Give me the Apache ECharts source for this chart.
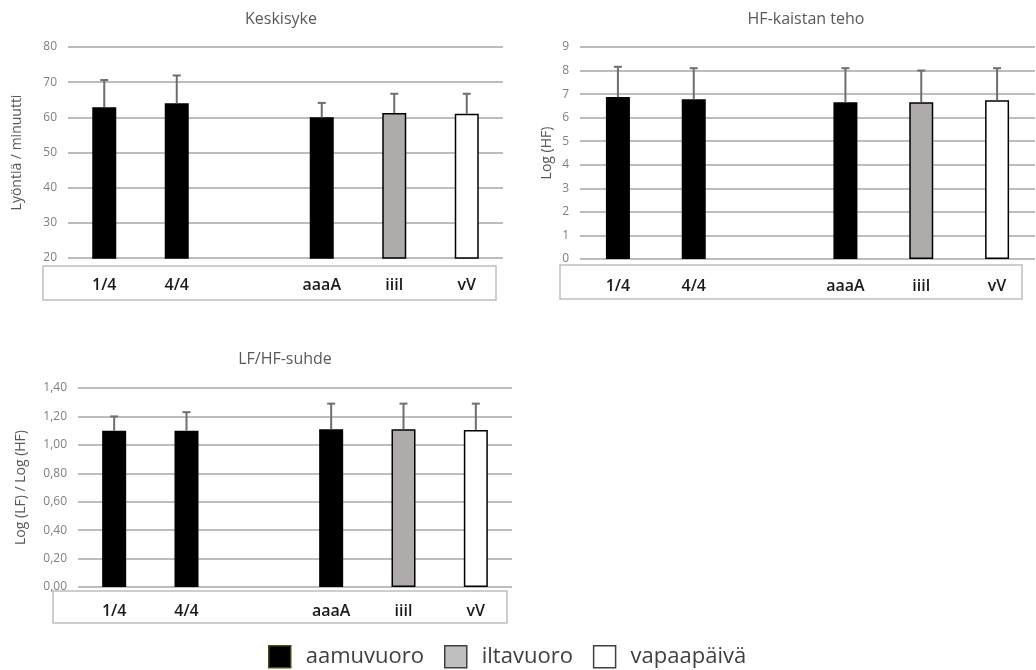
<!DOCTYPE html>
<html>
<head>
<meta charset="utf-8">
<script src="https://cdn.jsdelivr.net/npm/echarts@6/dist/echarts.min.js"></script>
<style>html,body{margin:0;padding:0;background:#fff;}#c{width:1036px;height:670px;}</style>
</head>
<body>
<div id="c"></div>
<script>
const categories = ['1/4', '4/4', '', 'aaaA', 'iiil', 'vV'];
const groupOf = ['aamuvuoro', 'aamuvuoro', null, 'aamuvuoro', 'iltavuoro', 'vapaapäivä'];
const legendNames = ['aamuvuoro', 'iltavuoro', 'vapaapäivä'];

const hrMean = [62.9, 64.0, null, 60.0, 61.2, 61.0];
const hrUpper = [70.6, 71.9, null, 64.1, 66.7, 66.7];
const hfMean = [6.88, 6.78, null, 6.65, 6.65, 6.74];
const hfUpper = [8.16, 8.10, null, 8.10, 8.00, 8.10];
const lfhfMean = [1.10, 1.10, null, 1.11, 1.11, 1.105];
const lfhfUpper = [1.20, 1.23, null, 1.29, 1.29, 1.29];

const titles = ['Keskisyke', 'HF-kaistan teho', 'LF/HF-suhde'];
const yNames = ['Lyöntiä / minuutti', 'Log (HF)', 'Log (LF) / Log (HF)'];
const yMin = [20, 0, 0];
const yMax = [80, 9, 1.4];
const yInterval = [10, 1, 0.2];

const fillColors = { 'aamuvuoro': '#000000', 'iltavuoro': '#afabab', 'vapaapäivä': '#ffffff' };
const FONT = '"Open Sans", "Noto Sans", sans-serif';

const grids = [
  { left: 68, right: 533, top: 47, bottom: 412 },
  { left: 580, right: 1, top: 47, bottom: 411 },
  { left: 78, right: 524, top: 388, bottom: 83 }
];
const nameGaps = [44, 26, 50];
const labelMargins = [19, 19, 16];
const titlePos = [{ left: 276, top: 6 }, { left: 801, top: 6 }, { left: 280, top: 346 }];
const boxes = [
  { x: 43, y: 266, w: 453, h: 34 },
  { x: 560, y: 265, w: 462, h: 34 },
  { x: 53, y: 591, w: 454, h: 32 }
];

const means = [hrMean, hfMean, lfhfMean];
const uppers = [hrUpper, hfUpper, lfhfUpper];

const xAxes = [], yAxes = [], series = [];
for (let g = 0; g < 3; g++) {
  xAxes.push({
    type: 'category', gridIndex: g, data: categories,
    axisLine: { show: false }, axisTick: { show: false },
    axisLabel: { margin: labelMargins[g], fontSize: 16, fontWeight: 600, color: '#1a1a1a', fontFamily: FONT, interval: 0 }
  });
  yAxes.push({
    type: 'value', gridIndex: g, min: yMin[g], max: yMax[g], interval: yInterval[g],
    name: yNames[g], nameLocation: 'middle', nameGap: nameGaps[g],
    nameTextStyle: { fontSize: 14, color: '#595959', fontFamily: FONT },
    axisLine: { show: false }, axisTick: { show: false },
    axisLabel: {
      margin: 11, fontSize: 12, color: '#7f7f7f', fontFamily: FONT,
      formatter: g === 2 ? (v => v.toFixed(2).replace('.', ',')) : (v => String(v))
    },
    splitLine: { lineStyle: { color: '#bdbdbd', width: 2 } }
  });
  legendNames.forEach(name => {
    series.push({
      type: 'bar', name: name, xAxisIndex: g, yAxisIndex: g,
      barWidth: 24, barGap: '-100%',
      data: means[g].map((v, i) => groupOf[i] === name ? v : '-'),
      itemStyle: { color: fillColors[name], borderColor: '#000', borderWidth: 1.5 },
      emphasis: { disabled: true }, animation: false
    });
  });
  series.push({
    type: 'custom', xAxisIndex: g, yAxisIndex: g, z: 5, animation: false,
    data: means[g].map((v, i) => v == null ? null : [i, v, uppers[g][i]]).filter(d => d),
    renderItem: function (params, api) {
      const x = api.value(0);
      const lo = api.coord([x, api.value(1)]);
      const hi = api.coord([x, api.value(2)]);
      const st = { stroke: '#6e6e6e', lineWidth: 2 };
      return {
        type: 'group', children: [
          { type: 'line', shape: { x1: lo[0], y1: lo[1], x2: hi[0], y2: hi[1] }, style: st },
          { type: 'line', shape: { x1: hi[0] - 4, y1: hi[1], x2: hi[0] + 4, y2: hi[1] }, style: st }
        ]
      };
    }
  });
}

const option = {
  backgroundColor: '#ffffff',
  animation: false,
  title: titles.map((t, i) => ({
    text: t, left: titlePos[i].left, top: titlePos[i].top, textAlign: 'center',
    textStyle: { fontSize: 16, fontWeight: 'normal', color: '#595959', fontFamily: FONT }
  })),
  grid: grids,
  xAxis: xAxes,
  yAxis: yAxes,
  legend: {
    left: 268, top: 645, padding: 0, icon: 'rect', itemWidth: 22, itemHeight: 22, itemGap: 20,
    selectedMode: false,
    textStyle: { fontSize: 22, color: '#404040', fontFamily: FONT, padding: [0, 0, 0, 10] },
    data: [
      { name: 'aamuvuoro', itemStyle: { color: '#000', borderColor: '#4a4a10', borderWidth: 1.5 } },
      { name: 'iltavuoro', itemStyle: { color: '#bfbfbf', borderColor: '#404040', borderWidth: 1.5 } },
      { name: 'vapaapäivä', itemStyle: { color: '#fff', borderColor: '#404040', borderWidth: 1.5 } }
    ]
  },
  graphic: boxes.map(b => ({
    type: 'rect', z: -1, silent: true,
    shape: { x: b.x, y: b.y, width: b.w, height: b.h },
    style: { fill: 'none', stroke: '#bfbfbf', lineWidth: 1.5 }
  })),
  series: series
};

const chart = echarts.init(document.getElementById('c'), null, { renderer: 'canvas' });
chart.setOption(option);
</script>
</body>
</html>
